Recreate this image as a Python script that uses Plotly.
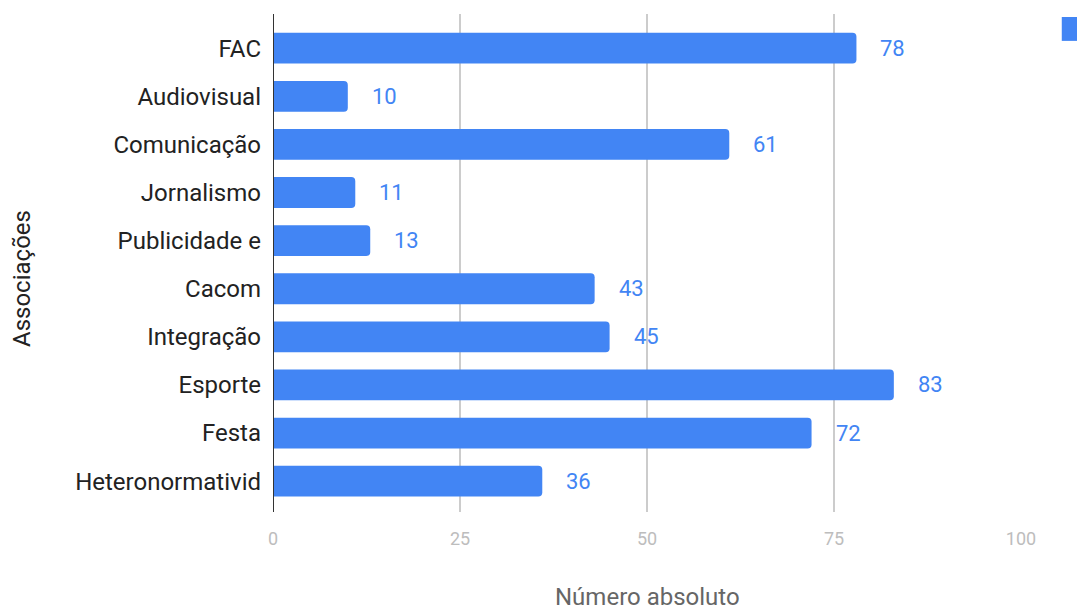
import plotly.graph_objects as go

# Associações e número absoluto de menções
categorias = ["FAC", "Audiovisual", "Comunicação", "Jornalismo", "Publicidade e",
              "Cacom", "Integração", "Esporte", "Festa", "Heteronormativid"]
valores = [78, 10, 61, 11, 13, 43, 45, 83, 72, 36]
ticks_x = [0, 25, 50, 75, 100]

AZUL = "#4285f4"
FONTE = "Roboto"

fig = go.Figure()
fig.add_trace(go.Bar(
    y=categorias, x=valores, orientation="h",
    marker=dict(color=AZUL, cornerradius=4, line=dict(width=0)),
    width=0.64, showlegend=False,
))

# valores escritos à direita de cada barra
anotacoes = [
    dict(x=v, y=c, xref="x", yref="y", text=str(v), showarrow=False,
         xanchor="left", yanchor="middle", xshift=22,
         font=dict(family=FONTE, size=22, color=AZUL))
    for c, v in zip(categorias, valores)
]
anotacoes += [
    dict(x=0.5, y=0, xref="paper", yref="paper", text="Número absoluto",
         showarrow=False, xanchor="center", yanchor="middle", yshift=-85,
         font=dict(family=FONTE, size=24, color="#666666")),
    dict(x=0, y=0.5, xref="paper", yref="paper", text="Associações",
         showarrow=False, xanchor="center", yanchor="middle",
         xshift=-251, yshift=-16,
         textangle=-90, font=dict(family=FONTE, size=24, color="#222222")),
]

fig.update_layout(
    width=1077, height=611,
    margin=dict(l=273, r=56, t=14, b=99, pad=0),
    paper_bgcolor="white", plot_bgcolor="white",
    font=dict(family=FONTE),
    annotations=anotacoes,
    shapes=[dict(type="rect", xref="paper", yref="paper",
                 x0=1.0545, x1=1.085, y0=0.946, y1=0.994,
                 fillcolor=AZUL, line=dict(width=0), layer="above")],
)
fig.update_xaxes(
    range=[0, 100], tickvals=ticks_x, ticktext=[str(t) for t in ticks_x],
    showgrid=True, gridcolor="#cccccc", gridwidth=2,
    zeroline=False, showline=False,
    tickfont=dict(family=FONTE, size=18, color="#bdbdbd"),
    ticks="", ticklabelstandoff=14,
)
fig.update_yaxes(
    categoryorder="array", categoryarray=categorias,
    autorange=False, range=[9.64, -0.71],
    showgrid=False, zeroline=False,
    showline=False,
    tickfont=dict(family=FONTE, size=24, color="#222222"),
    ticks="", ticklabelstandoff=11,
)
# linha do zero escura
fig.add_vline(x=0, line=dict(color="#333333", width=2), layer="above")

fig.write_html("out.html")
